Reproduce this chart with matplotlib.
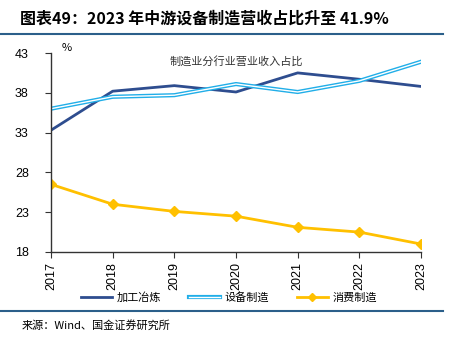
import matplotlib
matplotlib.use('Agg')
import matplotlib.pyplot as plt
from matplotlib.lines import Line2D
import matplotlib.patheffects as pe

plt.rcParams['font.family'] = ['Noto Sans CJK SC', 'DejaVu Sans']

years = ['2017', '2018', '2019', '2020', '2021', '2022', '2023']
jiagong = [33.3, 38.2, 38.9, 38.1, 40.5, 39.7, 38.8]
shebei = [36.0, 37.5, 37.7, 39.1, 38.1, 39.5, 41.9]
xiaofei = [26.5, 24.0, 23.1, 22.5, 21.1, 20.5, 19.0]
yticks = [18, 23, 28, 33, 38, 43]

c_dark = '#2e4d8f'
c_light = '#21aee8'
c_yel = '#ffc000'

fig = plt.figure(figsize=(4.58, 3.38), dpi=100)
ax = fig.add_axes([51 / 458, 1 - 252 / 338, 370 / 458, 199 / 338])

x = list(range(len(years)))
ax.plot(x, jiagong, color=c_dark, lw=2.0, solid_capstyle='round')
ax.plot(x, shebei, color=c_light, lw=3.0)
ax.plot(x, shebei, color='white', lw=1.0)
ax.plot(x, xiaofei, color=c_yel, lw=2.0, marker='D', ms=5)

ax.set_xlim(0, 6)
ax.set_ylim(18, 43)
ax.set_yticks(yticks)
ax.set_xticks(x)
ax.set_xticklabels(years, rotation=90, fontsize=9, family='Liberation Sans')
for t in ax.get_yticklabels():
    t.set_family('Liberation Sans')
    t.set_fontsize(9)
for s in ['top', 'right']:
    ax.spines[s].set_visible(False)
for s in ['left', 'bottom']:
    ax.spines[s].set_color('#333333')
    ax.spines[s].set_linewidth(1.0)
ax.tick_params(axis='both', direction='out', length=4, color='#333333', pad=3)
ax.tick_params(axis='y', pad=12)

ax.text(0.03, 1.0, '%', transform=ax.transAxes, fontsize=8, ha='left', va='bottom')
ax.text(0.5, 0.985, '制造业分行业营业收入占比', transform=ax.transAxes, fontsize=8,
        ha='center', va='top', color='#333333')

handles = [
    Line2D([], [], color=c_dark, lw=2.0),
    Line2D([], [], color=c_light, lw=3.0,
           path_effects=[pe.Stroke(linewidth=3.0, foreground=c_light),
                         pe.Stroke(linewidth=1.0, foreground='white')]),
    Line2D([], [], color=c_yel, lw=2.0, marker='D', ms=4),
]
fig.legend(handles, ['加工冶炼', '设备制造', '消费制造'], loc='center',
           bbox_to_anchor=(0.5, 1 - 297 / 338), ncol=3, frameon=False,
           fontsize=8, handlelength=2.8, columnspacing=2.5, handletextpad=0.4)

fig.text(20 / 458, 1 - 19 / 338, '图表49：2023 年中游设备制造营收占比升至 41.9%',
         fontsize=11.5, fontweight='bold', fontstyle='italic', ha='left', va='center')
fig.add_artist(Line2D([0, 443 / 458], [1 - 34 / 338, 1 - 34 / 338], color='#2b5f8a', lw=1.5))
fig.add_artist(Line2D([0, 443 / 458], [1 - 311 / 338, 1 - 311 / 338], color='#2b5f8a', lw=1.5))
fig.text(22 / 458, 1 - 325 / 338, '来源：Wind、国金证券研究所', fontsize=8, ha='left', va='center')

fig.savefig('out.png', dpi=100)
